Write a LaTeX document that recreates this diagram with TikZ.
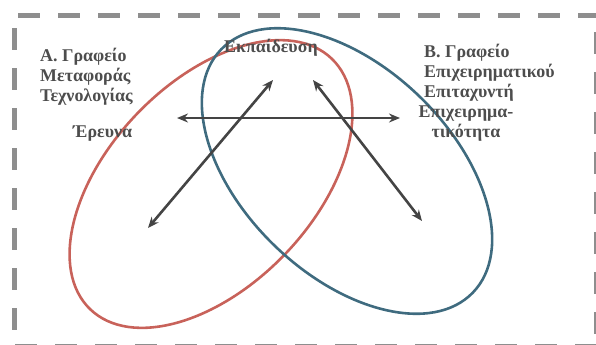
\documentclass[tikz,border=0pt]{standalone}
\usepackage{fontspec}
\setmainfont{Liberation Serif}
\usetikzlibrary{arrows.meta}
\definecolor{framegrey}{HTML}{8E8E8E}
\definecolor{ringred}{HTML}{C8625A}
\definecolor{ringblue}{HTML}{3F6B7F}
\definecolor{ink}{HTML}{4D4D4D}
\definecolor{arrowgrey}{HTML}{444444}

\begin{document}
\begin{tikzpicture}[x=1bp,y=-1bp,
    txt/.style={font=\bfseries\fontsize{18}{20}\selectfont, text=ink, inner sep=0pt},
    link/.style={{Stealth[length=11bp,width=9bp]}-{Stealth[length=11bp,width=9bp]}, line width=2.6bp, draw=arrowgrey},
    ring/.style={line width=2.6bp},
    fence/.style={framegrey, line width=5bp, dash pattern=on 22bp off 18bp}]
    \useasboundingbox (0,0) rectangle (596,344);
    % dashed frame
    \draw[fence] (18,15) -- (596,15);
    \draw[fence] (14.5,28) -- (14.5,346);
    \draw[fence] (596,32) -- (596,346);
    \draw[fence] (15,346) -- (596,346);
    % the two offices
    \draw[ring, ringred, rotate around={46:(211,184)}] (211,184) ellipse [x radius=174, y radius=102];
    \draw[ring, ringblue, rotate around={-44:(347,171)}] (347,171) ellipse [x radius=175, y radius=104];
    % arrows
    \coordinate (resL) at (177,118);
    \coordinate (resR) at (400,118);
    \coordinate (edA) at (148,228);
    \coordinate (edB) at (273,80);
    \coordinate (enA) at (313,80);
    \coordinate (enB) at (422,221);
    \draw[link] (resL) -- (resR);
    \draw[link] (edA) -- (edB);
    \draw[link] (enA) -- (enB);
    % labels (base = last line)
    \node[txt, anchor=base west, align=left] (officeA) at (40,101) {Α. Γραφείο\\Μεταφοράς\\Τεχνολογίας};
    \node[txt, anchor=base west] (research) at (73,137) {Έρευνα};
    \node[txt, anchor=base west] (education) at (224,52) {Εκπαίδευση};
    \node[txt, anchor=base west, align=left] (officeB) at (424,97) {Β. Γραφείο\\Επιχειρηματικού\\Επιταχυντή};
    \node[txt, anchor=base, align=center] (entre) at (466,137) {Επιχειρημα-\\τικότητα};
\end{tikzpicture}
\end{document}
